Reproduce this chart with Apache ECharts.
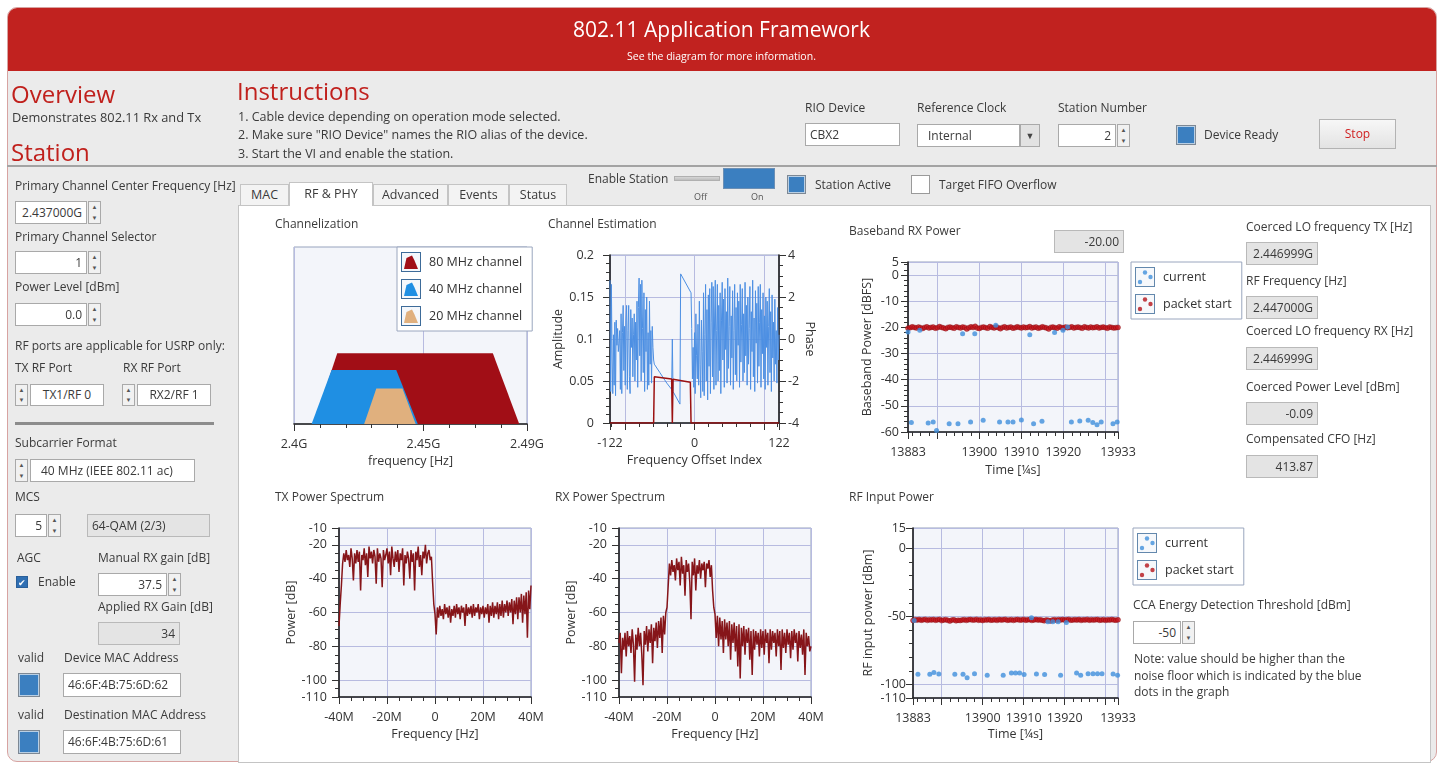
<!DOCTYPE html>
<html>
<head>
<meta charset="utf-8">
<title>802.11 Application Framework</title>
<script src="https://cdn.jsdelivr.net/npm/echarts@6/dist/echarts.min.js"></script>
<style>
  body { margin: 0; width: 1443px; height: 764px; background: #fff; font-family: "Open Sans", sans-serif; font-size: 12px; color: #3a3a3a; overflow: hidden; }
  div { position: absolute; box-sizing: border-box; white-space: nowrap; }
  .t { height: 18px; line-height: 18px; }
  .box { background: #fff; border: 1px solid #a9a9a9; text-align: right; padding: 0 4px; }
  .ind { background: #e4e4e4; border: 1px solid #b9b9b9; text-align: right; padding: 0 4px; }
  .spin { background: #f1f1f1; border: 1px solid #a9a9a9; }
  .spin div { position: relative; height: 50%; width: 100%; font-size: 6px; line-height: 10px; text-align: center; color: #555; }
  .led { background: #3b7fc0; border: 1px solid #7d8894; box-shadow: inset 0 0 0 1px #b9cfe4; }
  .tab { top: 184px; height: 22px; line-height: 20px; text-align: center; background: #f3f3f3; border: 1px solid #c4c4c4; font-size: 12.5px; }
  .h1 { color: #c0201c; font-size: 24px; height: 30px; line-height: 30px; }
</style>
</head>
<body>
<div id="frame" style="left:7px;top:7px;width:1430px;height:755px;border:1px solid #d7a3a1;border-radius:10px;background:#ebebeb;overflow:hidden;">
  <div style="left:0;top:0;width:100%;height:63px;background:#c1221f;"></div>
</div>
<div style="left:7px;top:165px;width:1430px;height:2px;background:#a3a3a3;"></div>
<div id="panel" style="left:238px;top:205px;width:1193px;height:558px;background:#fff;border:1px solid #c4c4c4;"></div>
<div id="chart" style="left:0;top:0;width:1443px;height:764px;z-index:2;pointer-events:none;"></div>

<script>
// ---------- data ----------
// channelization trapezoids: [frequency GHz, relative level]
var channel80 = [[2.4077, 0], [2.4167, 0.4], [2.4768, 0.4], [2.487, 0]];
var channel40 = [[2.4068, 0], [2.4145, 0.305], [2.4395, 0.305], [2.4478, 0]];
var channel20 = [[2.4271, 0], [2.4318, 0.2], [2.4419, 0.2], [2.447, 0]];
var chanXLabels = [2.4, 2.45, 2.49];
var chanXMajor = [2.4, 2.45, 2.49];
var chanXMinor = [2.41, 2.42, 2.43, 2.44, 2.46, 2.47, 2.48];

// channel estimation
var ceAmplitude = [[-122, 0], [-59, 0], [-58, 0.055], [-33, 0.0525], [-32, 0], [-31, 0.052], [-6, 0.0485], [-5, 0], [122, 0]];
var cePhaseLeftStart = -122;
var cePhaseLeft = [2.8, -2.5, 2.6, -1.0, -2.6, 0.2, -2.2, 0.8, -2.7, 0.9, -0.3, 0.5, -0.6, -0.2, 0.4, -2.4, 1.2, -2.6, 0.3, 1.6,
  -1.5, 0.6, -2.2, 0.9, 1.6, -2.4, 0.4, 1.6, -1.8, -2.6, 1.4, -0.4, 1.0, -1.8, 0.2, 1.2, -2.0, 0.8, -1.0, 1.8,
  -2.3, 1.5, 2.9, -0.8, 2.6, -2.0, 2.8, 0.5, -1.6, 2.2, -2.5, 1.4, -0.6, 2.0, -2.4, 0.3, -2.2, 1.8, -1.2, 0.4,
  -2.1, 0.6, -0.4];
var cePhaseMid = [[-59, -1.0], [-58, -1.2], [-50, -1.6], [-40, -2.1], [-33, -2.4], [-32, 0], [-31, -2.5], [-21, -3.1], [-20, 3.1], [-5, 2.2]];
var cePhaseRightStart = -4;
var cePhaseRight = [0.5, -1.9, -0.4, -2.3, 0.3, -2.6, 1.2, -0.8, -1.9, 0.7, -2.2, 1.8, -1.2, -2.8, 0.9, -0.6, -2.5, 2.2, -2.7, 0.2,
  2.6, -2.0, 1.4, -2.9, 2.1, -1.3, 2.4, -2.6, 0.8, 2.7, -1.8, 2.5, -2.4, 1.0, 2.8, -2.2, 0.4, 2.6, -2.0, 1.6,
  -1.5, 2.2, -2.6, 0.9, 2.7, -1.0, 1.9, -2.3, 2.4, -0.5, 1.3, -2.1, 2.9, -1.4, 0.6, 2.5, -2.2, 1.1, -0.9, 2.3,
  -2.4, 0.4, 2.6, -1.7, 1.5, -2.0, 2.2, -0.3, 1.8, -2.3, 2.6, -1.1, 0.7, 2.4, -2.0, 1.2, -1.6, 2.7, -0.8, 1.6,
  -2.2, 2.0, -1.2, 0.5, 2.5, -2.4, 1.3, -0.6, 2.8, -1.8, 1.0, -2.5, 2.3, -0.2, 1.7, -2.1, 2.5, -1.3, 0.8, 2.6,
  -2.3, 1.4, -0.7, 2.2, -1.9, 1.1, -2.4, 2.0, -0.4, 1.8, -2.2, 0.6, 2.4, -1.6, 1.3, -2.5, 2.1, -0.9, 0.8, -2.0,
  1.9, -1.2, 0.4, -2.1, 1.5, -1.0, 0.2];
var ceXLabels = [-122, 0, 122];
var ceXMajor = [-122, -100, 0, 100, 122];
var ceXMinor = [-120, -80, -60, -40, -20, 20, 40, 60, 80, 120];
var ceAmpLabels = [0, 0.05, 0.1, 0.15, 0.2];
var ceAmpMinor = [0.01, 0.02, 0.03, 0.04, 0.06, 0.07, 0.08, 0.09, 0.11, 0.12, 0.13, 0.14, 0.16, 0.17, 0.18, 0.19];
var cePhaseLabels = [-4, -2, 0, 2, 4];
var cePhaseMinor = [-3.5, -3, -2.5, -1.5, -1, -0.5, 0.5, 1, 1.5, 2.5, 3, 3.5];

// time axis shared by the two power charts
var timeStart = 13883, timeStep = 0.5;
var timeLabels = [13883, 13900, 13910, 13920, 13933];
var timeMajor = [13883, 13890, 13900, 13910, 13920, 13930, 13933];
var timeMinor = [13884, 13886, 13888, 13892, 13894, 13896, 13898, 13902, 13904, 13906, 13908, 13912, 13914, 13916, 13918, 13922, 13924, 13926, 13928, 13932];

// baseband RX power [dBFS]
var bbPacket = [-20.3, -20.1, -19.8, -20.0, -20.2, -19.9, -20.1, -20.4, -20.0, -19.8, -20.2, -20.0, -19.9, -20.3, -20.1, -19.7, -20.0, -20.2, -20.5, -20.0,
  -19.9, -20.1, -20.3, -19.8, -20.0, -20.2, -19.9, -20.0, -20.6, -20.1, -19.8, -20.0, -19.6, -20.2, -20.4, -20.0, -19.9, -20.1, -20.3, -19.7,
  -20.0, -20.2, -19.9, -20.1, -20.5, -20.0, -19.8, -20.2, -20.0, -19.9, -20.3, -20.1, -19.8, -20.0, -20.2, -19.9, -20.1, -20.0, -19.7, -20.2,
  -20.0, -19.9, -20.3, -20.1, -19.8, -20.0, -20.2, -20.6, -20.0, -19.9, -20.1, -20.3, -19.8, -20.0, -20.2, -19.9, -20.1, -20.0, -19.8, -20.2,
  -20.0, -19.9, -20.1, -20.3, -19.8, -20.0, -20.2, -19.9, -20.1, -20.0, -19.8, -20.2, -20.0, -19.9, -20.1, -20.3, -19.9, -20.0, -20.2, -20.1, -20.0];
var bbCurrent = [[13883, -21.8], [13883.8, -56.4], [13885.8, -21.1], [13887.8, -56.6], [13889, -56.2], [13889.8, -59.4], [13892.8, -56.8],
  [13894.9, -56.8], [13896, -22.4], [13897.9, -56.2], [13898.9, -22.4], [13900.9, -55.5], [13903.9, -19.2], [13904.8, -56.2], [13906.8, -56.2],
  [13908, -56.2], [13910, -55.4], [13912, -22.8], [13912.9, -56.8], [13914.9, -55.9], [13917.9, -22], [13919.9, -21.1], [13921, -19.9],
  [13921.9, -56.2], [13923.9, -55.8], [13925.9, -55.5], [13927, -56.4], [13928, -57.2], [13929, -56.2], [13931.8, -56.8], [13932.8, -56.2]];
var bbYLabels = [5, 0, -10, -20, -30, -40, -50, -60];
var bbYMinor = [4, 2, -2, -4, -6, -8, -12, -14, -16, -18, -22, -24, -26, -28, -32, -34, -36, -38, -42, -44, -46, -48, -52, -54, -56, -58];

// RF input power [dBm]
var rfPacket = [-53.0, -52.4, -52.7, -52.3, -52.8, -52.5, -52.2, -52.9, -52.4, -52.6, -52.3, -52.8, -52.5, -52.2, -53.1, -52.6, -52.4, -52.9, -53.4, -52.7,
  -52.5, -53.2, -52.8, -53.0, -52.6, -52.4, -52.9, -52.5, -52.3, -52.7, -52.6, -52.2, -52.8, -52.5, -53.0, -52.4, -52.7, -52.3, -52.8, -52.6,
  -52.4, -52.9, -52.3, -52.7, -52.5, -52.2, -52.8, -52.6, -52.4, -52.9, -52.5, -52.3, -52.7, -52.6, -52.2, -52.8, -52.5, -52.4, -52.9, -52.6,
  -52.3, -52.7, -52.5, -52.8, -53.2, -52.6, -52.9, -53.3, -52.7, -52.5, -52.8, -52.4, -52.6, -52.3, -52.7, -52.5, -52.2, -52.8, -52.6, -52.4,
  -52.7, -52.3, -52.9, -52.5, -52.6, -52.2, -52.8, -52.4, -52.7, -52.5, -52.3, -52.8, -52.6, -52.4, -52.9, -52.5, -52.7, -52.3, -52.6, -52.8, -52.5];
var rfCurrent = [[13883.3, -53], [13884.2, -92.5], [13887.1, -92.5], [13888.1, -91.3], [13889.3, -92.3], [13893.2, -92.5], [13895.2, -92.5],
  [13896.2, -95.2], [13898, -92.1], [13901.1, -93.3], [13905, -93.3], [13907, -91.6], [13908, -91.6], [13909, -91.6], [13910.1, -92.8],
  [13911.9, -51], [13913.1, -92.3], [13915.1, -92.8], [13915.9, -53.9], [13917.1, -53.9], [13918.4, -53.9], [13919, -93.3], [13920.4, -54.4],
  [13922.9, -91.6], [13923.9, -93.3], [13925.7, -92.1], [13926.9, -92.1], [13928, -92.1], [13929.1, -92.1], [13931.8, -92.3], [13932.9, -93.3]];
var rfYLabels = [15, 0, -50, -100, -110];
var rfYMajor = [15, 0, -50, -100, -110];
var rfYMinor = [-10, -20, -30, -40, -60, -70, -80, -90];

// power spectra [dB], one value every 0.5 MHz from -40 MHz
var specStart = -40, specStep = 0.5;
var txSpectrum = [-68, -55, -44, -31, -25, -30, -23, -29, -26, -33, -22, -28, -41, -25, -31, -23, -30, -24, -47, -26,
  -29, -22, -32, -25, -39, -21, -28, -24, -31, -23, -27, -43, -22, -30, -25, -28, -45, -23, -29, -26,
  -22, -31, -24, -38, -21, -28, -33, -24, -30, -23, -36, -25, -29, -22, -44, -26, -31, -24, -28, -40,
  -23, -30, -25, -47, -24, -29, -21, -33, -26, -38, -24, -28, -20, -31, -25, -23, -29, -27, -42, -55,
  -61, -73, -57, -63, -56, -62, -58, -64, -55, -61, -57, -63, -56, -66, -58, -62, -56, -63, -55, -61,
  -57, -64, -56, -60, -57, -68, -55, -62, -57, -61, -56, -63, -55, -62, -57, -60, -55, -64, -57, -61,
  -56, -63, -57, -61, -55, -66, -56, -62, -54, -63, -56, -61, -54, -64, -55, -62, -53, -63, -55, -60,
  -53, -62, -54, -60, -52, -67, -53, -61, -51, -64, -51, -60, -49, -66, -50, -61, -48, -75, -47, -58, -44];
var rxSpectrum = [-78, -72, -96, -75, -82, -72, -86, -71, -80, -74, -84, -70, -79, -101, -73, -82, -69, -80, -72, -85,
  -103, -71, -79, -68, -83, -70, -78, -67, -90, -69, -77, -66, -81, -65, -75, -63, -84, -62, -73, -60,
  -57, -44, -31, -38, -29, -36, -32, -41, -28, -35, -30, -44, -27, -37, -32, -50, -29, -36, -31, -42,
  -64, -30, -38, -28, -47, -32, -37, -29, -40, -31, -35, -30, -45, -31, -34, -29, -39, -32, -47, -57,
  -61, -75, -62, -80, -63, -76, -65, -84, -64, -76, -66, -80, -65, -88, -67, -78, -66, -83, -68, -92,
  -67, -99, -69, -80, -68, -85, -70, -78, -69, -88, -71, -97, -70, -82, -71, -79, -72, -86, -70, -81,
  -71, -85, -70, -78, -72, -90, -70, -82, -71, -78, -72, -86, -70, -80, -71, -94, -70, -81, -72, -84,
  -70, -79, -72, -87, -71, -82, -70, -78, -72, -89, -71, -81, -73, -85, -70, -97, -72, -80, -74, -83, -80];
var specXLabels = [-40, -20, 0, 20, 40];
var specXMinor = [-35, -30, -25, -15, -10, -5, 5, 10, 15, 25, 30, 35];
var specYLabels = [-110, -100, -80, -60, -40, -20, -10];
var specYMinor = [-105, -95, -90, -85, -75, -70, -65, -55, -50, -45, -35, -30, -25, -15];

// ---------- page widgets ----------
function el(cls, x, y, w, h, text, css) {
  var d = document.createElement('div');
  d.className = cls;
  d.style.left = x + 'px'; d.style.top = y + 'px';
  if (w) d.style.width = w + 'px';
  if (h) { d.style.height = h + 'px'; d.style.lineHeight = (h - 2) + 'px'; }
  if (text != null) d.textContent = text;
  if (css) d.style.cssText += css;
  d.style.zIndex = 3;
  document.body.appendChild(d);
  return d;
}
function label(x, yc, text, css) { return el('t', x, yc - 9, null, null, text, css); }
function box(x, y, w, h, text, css) { return el('box', x, y, w, h, text, css); }
function ind(x, y, w, h, text, css) { return el('ind', x, y, w, h, text, css); }
function spin(x, y, h) { var d = el('spin', x, y, 13, h || 22); d.style.lineHeight = 'normal'; d.innerHTML = '<div>&#9650;</div><div>&#9660;</div>'; }
function led(x, y, w, h) { el('led', x, y, w, h); }

// header
label(0, 29, '802.11 Application Framework', 'width:1443px;text-align:center;color:#fff;font-size:21px;height:30px;line-height:30px;top:14px;');
label(0, 56, 'See the diagram for more information.', 'width:1443px;text-align:center;color:#fff;font-size:10.5px;');

// headings
el('h1', 11, 79, null, null, 'Overview');
label(12, 117, 'Demonstrates 802.11 Rx and Tx', 'font-size:12.8px;');
el('h1', 11, 137, null, null, 'Station');
el('h1', 237, 76, null, null, 'Instructions');
label(238, 117, '1. Cable device depending on operation mode selected.', 'font-size:12.5px;');
label(238, 135, '2. Make sure "RIO Device" names the RIO alias of the device.', 'font-size:12.5px;');
label(238, 154, '3. Start the VI and enable the station.', 'font-size:12.5px;');

// top-right controls
label(805, 108, 'RIO Device');
box(805, 123, 95, 23, 'CBX2', 'text-align:left;');
label(917, 108, 'Reference Clock');
box(917, 124, 103, 23, 'Internal', 'text-align:left;padding-left:10px;');
el('spin', 1020, 124, 20, 23, '\u25BC', 'text-align:center;font-size:9px;color:#444;background:#e2e2e2;');
label(1058, 108, 'Station Number');
box(1058, 124, 58, 23, '2');
spin(1117, 124, 23);
led(1176, 125, 20, 20);
label(1204, 135, 'Device Ready');
el('box', 1319, 119, 77, 30, 'Stop', 'text-align:center;color:#d02020;background:linear-gradient(#f7f7f7,#e3e3e3);border-color:#b3b3b3;');

// left column
label(15, 186, 'Primary Channel Center Frequency [Hz]');
box(15, 201, 72, 23, '2.437000G'); spin(88, 201, 23);
label(15, 237, 'Primary Channel Selector');
box(15, 251, 72, 23, '1'); spin(88, 251, 23);
label(15, 287, 'Power Level [dBm]');
box(15, 303, 72, 23, '0.0'); spin(88, 303, 23);
label(15, 346, 'RF ports are applicable for USRP only:');
label(15, 368, 'TX RF Port'); label(123, 368, 'RX RF Port');
spin(15, 384, 22); box(30, 384, 74, 22, 'TX1/RF 0', 'text-align:center;');
spin(122, 384, 22); box(137, 384, 74, 22, 'RX2/RF 1', 'text-align:center;');
el('', 15, 422, 199, 3, null, 'background:#8c8c8c;');
label(15, 443, 'Subcarrier Format');
spin(15, 459, 23); box(30, 459, 165, 23, '40 MHz (IEEE 802.11 ac)', 'text-align:left;padding-left:10px;');
label(15, 497, 'MCS');
box(15, 514, 32, 23, '5'); spin(48, 514, 23);
ind(87, 514, 123, 23, '64-QAM (2/3)', 'text-align:left;');
label(17, 558, 'AGC'); label(98, 558, 'Manual RX gain [dB]');
el('', 16, 576, 12, 12, '\u2714', 'background:#2f6fb3;color:#fff;font-size:9px;line-height:12px;text-align:center;border:1px solid #2a5f99;');
label(38, 582, 'Enable');
box(98, 573, 69, 23, '37.5'); spin(168, 573, 23);
label(98, 607, 'Applied RX Gain [dB]');
ind(98, 622, 82, 23, '34');
label(18, 658, 'valid'); label(64, 658, 'Device MAC Address');
led(18, 673, 22, 24); box(63, 673, 118, 24, '46:6F:4B:75:6D:62', 'text-align:left;');
label(18, 715, 'valid'); label(64, 715, 'Destination MAC Address');
led(18, 730, 22, 24); box(63, 730, 118, 24, '46:6F:4B:75:6D:61', 'text-align:left;');

// tabs and station bar
[['MAC', 240, 49], ['Advanced', 373, 75], ['Events', 448, 61], ['Status', 509, 58]].forEach(function (t) { el('tab', t[1], 184, t[2], 22, t[0]); });
el('tab', 289, 182, 84, 24, 'RF & PHY', 'background:#fff;border-bottom:none;top:182px;line-height:22px;');
label(588, 179, 'Enable Station');
el('', 674, 176, 46, 5, null, 'background:linear-gradient(#d6d6d6,#bdbdbd);border:1px solid #b0b0b0;');
el('', 723, 168, 52, 21, null, 'background:#3b7fc0;border:1px solid #6b8fb5;');
label(694, 197, 'Off', 'font-size:9px;color:#555;');
label(751, 197, 'On', 'font-size:9px;color:#555;');
led(787, 175, 19, 19);
label(815, 185, 'Station Active');
el('', 911, 175, 19, 19, null, 'background:#fff;border:1px solid #9a9a9a;');
label(939, 185, 'Target FIFO Overflow');

// chart titles and indicators
label(275, 224, 'Channelization');
label(548, 224, 'Channel Estimation');
label(849, 231, 'Baseband RX Power');
ind(1054, 230, 70, 23, '-20.00');
label(275, 497, 'TX Power Spectrum');
label(555, 497, 'RX Power Spectrum');
label(849, 497, 'RF Input Power');

// right info column
label(1246, 227, 'Coerced LO frequency TX [Hz]'); ind(1246, 242, 72, 23, '2.446999G');
label(1246, 281, 'RF Frequency [Hz]'); ind(1246, 296, 72, 23, '2.447000G');
label(1246, 331, 'Coerced LO frequency RX [Hz]'); ind(1246, 347, 72, 23, '2.446999G');
label(1246, 387, 'Coerced Power Level [dBm]'); ind(1246, 402, 72, 23, '-0.09');
label(1246, 439, 'Compensated CFO [Hz]'); ind(1246, 455, 72, 23, '413.87');

// CCA threshold
label(1133, 605, 'CCA Energy Detection Threshold [dBm]');
box(1133, 621, 48, 23, '-50'); spin(1182, 621, 23);
label(1134, 659, 'Note: value should be higher than the');
label(1134, 676, 'noise floor which is indicated by the blue');
label(1134, 692, 'dots in the graph');

// ---------- chart ----------
var FONT = 'Open Sans';
var grids = [], xAxes = [], yAxes = [], series = [], legends = [];

function addGrid(l, t, w, h) {
  grids.push({ left: l, top: t, width: w, height: h, show: true, backgroundColor: '#f3f5fa', borderColor: '#97a3bd', borderWidth: 1, outerBoundsMode: 'none' });
  return grids.length - 1;
}
function addAxis(list, g, o) {
  var idx = list.length;
  list.push({
    type: 'value', gridIndex: g, position: o.pos, min: o.min, max: o.max,
    name: o.name || '', nameLocation: 'middle', nameGap: o.nameGap || 30, nameRotate: o.nameRotate,
    nameTextStyle: { color: '#333', fontSize: 12.5, fontFamily: FONT },
    axisLine: { show: o.line !== false, onZero: false, lineStyle: { color: '#1e1e1e', width: 1.6 } },
    axisTick: { show: !!o.major, customValues: o.major, length: 7, lineStyle: { color: '#333', width: 1 } },
    axisLabel: { show: !!o.labels, customValues: o.labels, formatter: o.fmt || function (v) { return String(v); },
      margin: o.margin || 10, color: '#333', fontSize: 12.5, fontFamily: FONT },
    splitLine: { show: !!o.grid, lineStyle: { color: '#b7bbe0', width: 1 } }
  });
  if (o.minor) {
    list.push({
      type: 'value', gridIndex: g, position: o.pos, min: o.min, max: o.max,
      axisLine: { show: false, onZero: false }, axisLabel: { show: false }, splitLine: { show: false },
      axisTick: { show: true, customValues: o.minor, length: 4, lineStyle: { color: '#333', width: 1 } }
    });
  }
  return idx;
}
function seq(start, step, vals) { return vals.map(function (v, i) { return [start + i * step, v]; }); }
function svgIcon(inner) {
  return 'image://data:image/svg+xml;charset=utf-8,' + encodeURIComponent(
    "<svg xmlns='http://www.w3.org/2000/svg' width='20' height='20'><rect x='0.5' y='0.5' width='19' height='19' fill='#f4f7fb' stroke='#3d6b99'/>" + inner + "</svg>");
}
function mountain(c) { return svgIcon("<path d='M3 17 L5.5 6 L11 3.5 L13.5 8.5 L17 17 Z' fill='" + c + "'/>"); }
function dots(c) { return svgIcon("<circle cx='5' cy='15' r='2.2' fill='" + c + "'/><circle cx='10' cy='5.5' r='2.2' fill='" + c + "'/><circle cx='15.5' cy='10' r='2.2' fill='" + c + "'/>"); }
function addLegend(l, t, items) {
  legends.push({
    orient: 'vertical', left: l, top: t, itemWidth: 20, itemHeight: 20, itemGap: 7, padding: [5, 10, 5, 4],
    backgroundColor: '#fff', borderColor: '#9aa6be', borderWidth: 1, selectedMode: false,
    textStyle: { fontSize: 12.5, color: '#333', fontFamily: FONT, padding: [0, 0, 0, 3] },
    data: items
  });
}

var C80 = '#a10e16', C40 = '#1f8fe3', C20 = '#e0b07e', CBLUE = '#3f8fdc', CRED = '#c8141c', CSPEC = '#861519';

// Channelization
var g0 = addGrid(294, 247, 233, 177);
var x0 = addAxis(xAxes, g0, { pos: 'bottom', min: 2.4, max: 2.49, labels: chanXLabels, major: chanXMajor, minor: chanXMinor, grid: true, margin: 14,
  fmt: function (v) { return v + 'G'; }, name: 'frequency [Hz]', nameGap: 31 });
var y0 = addAxis(yAxes, g0, { pos: 'left', min: 0, max: 1, line: false });
[['80 MHz channel', channel80, C80], ['40 MHz channel', channel40, C40], ['20 MHz channel', channel20, C20]].forEach(function (s) {
  series.push({ type: 'line', name: s[0], xAxisIndex: x0, yAxisIndex: y0, data: s[1], symbol: 'none', color: s[2],
    lineStyle: { width: 0 }, areaStyle: { color: s[2], opacity: 1 } });
});
addLegend(397, 247, [{ name: '80 MHz channel', icon: mountain(C80) }, { name: '40 MHz channel', icon: mountain(C40) }, { name: '20 MHz channel', icon: mountain(C20) }]);

// Channel estimation
var g1 = addGrid(610, 255, 169, 168);
var x1 = addAxis(xAxes, g1, { pos: 'bottom', min: -122, max: 122, labels: ceXLabels, major: ceXMajor, minor: ceXMinor, grid: true, margin: 14,
  name: 'Frequency Offset Index', nameGap: 31 });
var y1 = addAxis(yAxes, g1, { pos: 'left', min: 0, max: 0.2, labels: ceAmpLabels, major: ceAmpLabels, minor: ceAmpMinor, grid: true, margin: 16,
  name: 'Amplitude', nameGap: 38 });
var y1r = addAxis(yAxes, g1, { pos: 'right', min: -4, max: 4, labels: cePhaseLabels, major: cePhaseLabels, minor: cePhaseMinor, margin: 9,
  name: 'Phase', nameGap: 24, nameRotate: -90 });
var phase = seq(cePhaseLeftStart, 1, cePhaseLeft).concat(cePhaseMid, seq(cePhaseRightStart, 1, cePhaseRight));
series.push({ type: 'line', name: 'Phase', xAxisIndex: x1, yAxisIndex: y1r, data: phase, symbol: 'none', lineStyle: { color: '#4c8fe3', width: 1 } });
series.push({ type: 'line', name: 'Amplitude', xAxisIndex: x1, yAxisIndex: y1, data: ceAmplitude, symbol: 'none', lineStyle: { color: '#9b1111', width: 1.5 } });

// Baseband RX power
var g2 = addGrid(908, 262, 210, 170);
var x2 = addAxis(xAxes, g2, { pos: 'bottom', min: 13883, max: 13933, labels: timeLabels, major: timeMajor, minor: timeMinor, grid: true, margin: 14,
  name: 'Time [¼s]', nameGap: 32 });
var y2 = addAxis(yAxes, g2, { pos: 'left', min: -60, max: 5, labels: bbYLabels, major: bbYLabels, minor: bbYMinor, grid: true, margin: 9,
  name: 'Baseband Power [dBFS]', nameGap: 34 });
series.push({ type: 'scatter', name: 'packet start', xAxisIndex: x2, yAxisIndex: y2, data: seq(timeStart, timeStep, bbPacket), symbolSize: 5,
  itemStyle: { color: CRED, borderColor: '#7d0a0e', borderWidth: 0.5 } });
series.push({ type: 'scatter', name: 'current', xAxisIndex: x2, yAxisIndex: y2, data: bbCurrent, symbolSize: 5, itemStyle: { color: CBLUE } });
addLegend(1131, 262, [{ name: 'current', icon: dots(CBLUE) }, { name: 'packet start', icon: dots('#b3121a') }]);

// TX / RX power spectrum
function spectrumChart(left, vals, name) {
  var g = addGrid(left, 528, 192, 169);
  var xi = addAxis(xAxes, g, { pos: 'bottom', min: -40, max: 40, labels: specXLabels, major: specXLabels, minor: specXMinor, grid: true, margin: 14,
    fmt: function (v) { return v === 0 ? '0' : v + 'M'; }, name: 'Frequency [Hz]', nameGap: 31 });
  var yi = addAxis(yAxes, g, { pos: 'left', min: -110, max: -10, labels: specYLabels, major: specYLabels, minor: specYMinor, grid: true, margin: 12,
    name: 'Power [dB]', nameGap: 40 });
  series.push({ type: 'line', name: name, xAxisIndex: xi, yAxisIndex: yi, data: seq(specStart, specStep, vals), symbol: 'none',
    lineStyle: { color: CSPEC, width: 1.5 } });
}
spectrumChart(339, txSpectrum, 'TX');
spectrumChart(619, rxSpectrum, 'RX');

// RF input power
var g5 = addGrid(913, 528, 205, 170);
var x5 = addAxis(xAxes, g5, { pos: 'bottom', min: 13883, max: 13933, labels: timeLabels, major: timeMajor, minor: timeMinor, grid: true, margin: 14,
  name: 'Time [¼s]', nameGap: 30 });
var y5 = addAxis(yAxes, g5, { pos: 'left', min: -110, max: 15, labels: rfYLabels, major: rfYMajor, minor: rfYMinor, grid: true, margin: 7,
  name: 'RF input power [dBm]', nameGap: 38 });
series.push({ type: 'scatter', name: 'packet start', xAxisIndex: x5, yAxisIndex: y5, data: seq(timeStart, timeStep, rfPacket), symbolSize: 5,
  itemStyle: { color: CRED, borderColor: '#7d0a0e', borderWidth: 0.5 } });
series.push({ type: 'scatter', name: 'current', xAxisIndex: x5, yAxisIndex: y5, data: rfCurrent, symbolSize: 5, itemStyle: { color: CBLUE } });
addLegend(1133, 528, [{ name: 'current', icon: dots(CBLUE) }, { name: 'packet start', icon: dots('#b3121a') }]);

var chart = echarts.init(document.getElementById('chart'));
chart.setOption({
  animation: false,
  textStyle: { fontFamily: FONT },
  grid: grids,
  xAxis: xAxes,
  yAxis: yAxes,
  legend: legends,
  series: series
});
</script>
</body>
</html>
